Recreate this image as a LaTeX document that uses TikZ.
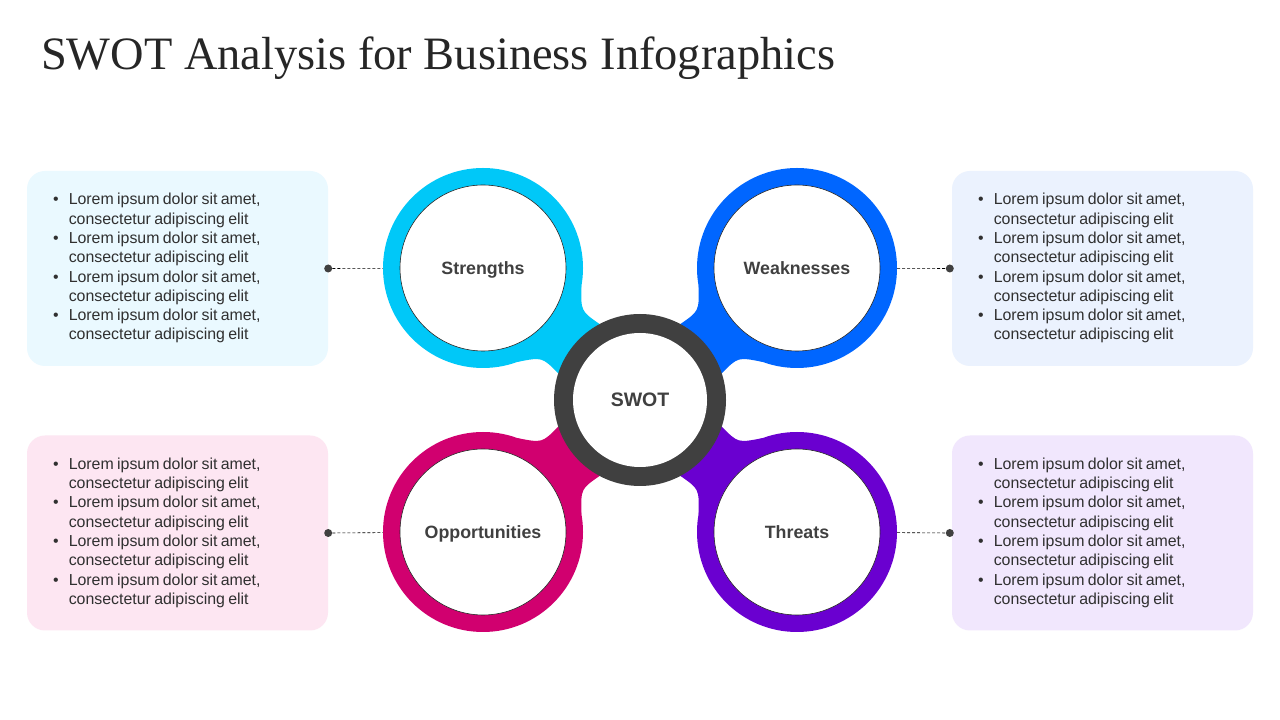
\documentclass[tikz,border=0pt]{standalone}
\usepackage{fontspec}
\setmainfont{Liberation Sans}
\newfontfamily\titlefont{Liberation Serif}
\usetikzlibrary{calc,backgrounds}

\definecolor{strcol}{HTML}{00C8F8}
\definecolor{weakcol}{HTML}{0066FF}
\definecolor{oppcol}{HTML}{D1006F}
\definecolor{thrcol}{HTML}{6A00D0}
\definecolor{hubcol}{HTML}{404040}
\definecolor{labelcol}{HTML}{404040}
\definecolor{textcol}{HTML}{303030}
\definecolor{titlecol}{HTML}{262626}
\definecolor{strbg}{HTML}{EAF9FF}
\definecolor{weakbg}{HTML}{EBF2FE}
\definecolor{oppbg}{HTML}{FDE6F2}
\definecolor{thrbg}{HTML}{F1E7FD}

\newcommand{\loremlist}{%
  \fontsize{15.9}{19.3}\selectfont
  \begin{tabular}{@{}l@{\hspace{10.2pt}}l@{}}
  \textbullet & Lorem ipsum dolor sit amet,\\
              & consectetur adipiscing elit\\
  \textbullet & Lorem ipsum dolor sit amet,\\
              & consectetur adipiscing elit\\
  \textbullet & Lorem ipsum dolor sit amet,\\
              & consectetur adipiscing elit\\
  \textbullet & Lorem ipsum dolor sit amet,\\
              & consectetur adipiscing elit
  \end{tabular}}

\begin{document}
\begin{tikzpicture}[
  x=1pt, y=1pt,
  ring/.style={circle, minimum size=200pt, inner sep=0pt},
  face/.style={circle, draw=black!85, line width=0.6pt, fill=white, minimum size=166pt, inner sep=0pt, text height=12.8pt, text depth=0pt, font=\fontsize{17.8}{20}\selectfont\bfseries, text=labelcol},
  hubface/.style={circle, fill=white, minimum size=134pt, inner sep=0pt, text height=14pt, text depth=0pt, font=\fontsize{19.5}{22}\selectfont\bfseries, text=labelcol},
  infobox/.style={rounded corners=18pt, minimum width=301pt, minimum height=195pt, text width=249pt, inner xsep=26pt, inner ysep=0pt, align=left, text=textcol},
  dot/.style={circle, fill=hubcol, minimum size=8pt, inner sep=0pt},
  link/.style={dash pattern=on 3pt off 2pt, line width=0.6pt, black}
]
\useasboundingbox (0,0) rectangle (1280,720);

% title
\node[anchor=base west, inner sep=0pt, font=\titlefont\fontsize{46.4}{50}\selectfont, text=titlecol] (title) at (41,650) {SWOT Analysis for Business Infographics};

% hub and the four rings
\node[circle, fill=hubcol, minimum size=172pt, inner sep=0pt] (hub) at (640,320) {};
\node[hubface] (hub-face) at (hub) {SWOT};

\node[ring, fill=strcol] (str) at (483,452) {};
\node[ring, fill=weakcol] (weak) at (797,452) {};
\node[ring, fill=oppcol] (opp) at (483,188) {};
\node[ring, fill=thrcol] (thr) at (797,188) {};

\node[face] (str-face) at (str) {Strengths};
\node[face] (weak-face) at (weak) {Weaknesses};
\node[face] (opp-face) at (opp) {Opportunities};
\node[face] (thr-face) at (thr) {Threats};

% necks between rings and hub
\begin{pgfonlayer}{background}
\fill[white] (0,0) rectangle (1280,720);
\foreach \p/\d/\c in {str/-40/strcol, weak/-140/weakcol, opp/40/oppcol, thr/140/thrcol}
  \fill[\c] ($(\p)+(\d+30:100pt)$) .. controls ($(\p)!0.5!(hub)+(\d+90:30pt)$) .. ($(hub)+(\d+158:86pt)$)
    -- (hub.center) -- ($(hub)+(\d+202:86pt)$) .. controls ($(\p)!0.5!(hub)+(\d-90:30pt)$) .. ($(\p)+(\d-30:100pt)$)
    -- (\p.center) -- cycle;
\end{pgfonlayer}

% text boxes
\node[infobox, fill=strbg] (str-box) at (177.5,451.5) {\loremlist};
\node[infobox, fill=oppbg] (opp-box) at (177.5,187) {\loremlist};
\node[infobox, fill=weakbg] (weak-box) at (1102.5,451.5) {\loremlist};
\node[infobox, fill=thrbg] (thr-box) at (1102.5,187) {\loremlist};

\node[dot] (str-dot) at (str-box.east) {};
\node[dot] (opp-dot) at (opp-box.east) {};
\node[dot] (weak-dot) at ([xshift=-2pt]weak-box.west) {};
\node[dot] (thr-dot) at ([xshift=-2pt]thr-box.west) {};

\draw[link] (str-dot) -- (str);
\draw[link] (opp-dot) -- (opp);
\draw[link] (weak) -- (weak-dot);
\draw[link] (thr) -- (thr-dot);
\end{tikzpicture}
\end{document}
